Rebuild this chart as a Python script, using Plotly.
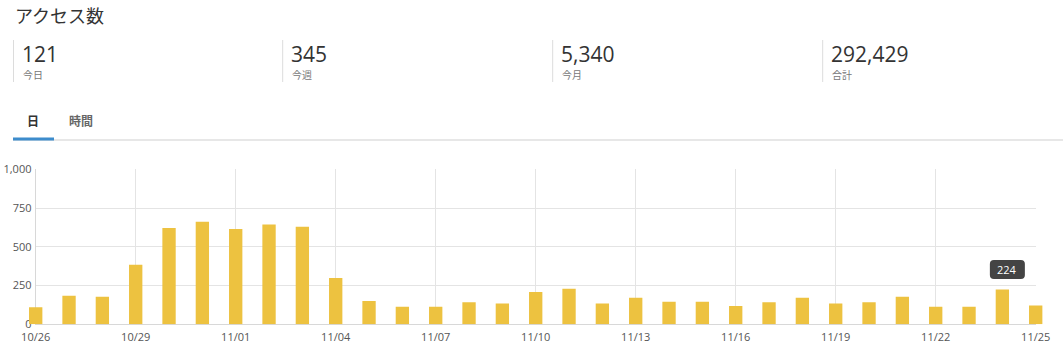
import plotly.graph_objects as go
import pandas as pd

W, H = 1063, 352

# ---------------- data ----------------
dates = [
    "2025-10-26", "2025-10-27", "2025-10-28", "2025-10-29", "2025-10-30", "2025-10-31",
    "2025-11-01", "2025-11-02", "2025-11-03", "2025-11-04", "2025-11-05", "2025-11-06",
    "2025-11-07", "2025-11-08", "2025-11-09", "2025-11-10", "2025-11-11", "2025-11-12",
    "2025-11-13", "2025-11-14", "2025-11-15", "2025-11-16", "2025-11-17", "2025-11-18",
    "2025-11-19", "2025-11-20", "2025-11-21", "2025-11-22", "2025-11-23", "2025-11-24",
    "2025-11-25",
]
visits = [
    110, 185, 178, 385, 621, 662,
    615, 644, 630, 299, 150, 114,
    114, 142, 135, 208, 230, 135,
    172, 146, 146, 118, 142, 172,
    135, 142, 178, 114, 114, 224,
    121,
]
x_tick_vals = ["2025-10-26", "2025-10-29", "2025-11-01", "2025-11-04", "2025-11-07",
               "2025-11-10", "2025-11-13", "2025-11-16", "2025-11-19", "2025-11-22",
               "2025-11-25"]
x_tick_text = ["10/26", "10/29", "11/01", "11/04", "11/07", "11/10", "11/13",
               "11/16", "11/19", "11/22", "11/25"]
y_tick_vals = [0, 250, 500, 750, 1000]
y_tick_text = ["0", "250", "500", "750", "1,000"]

title = "アクセス数"
stat_values = ["121", "345", "5,340", "292,429"]
stat_labels = ["今日", "今週", "今月", "合計"]
tabs = ["日", "時間"]
tooltip_date = "2025-11-24"
tooltip_value = 224

# ---------------- helpers ----------------
def px(v):
    return v / W

def py(v):
    return 1 - v / H

FONT = "Open Sans, Noto Sans CJK JP, sans-serif"
BAR = "#edc240"
GRID = "#e4e4e4"

fig = go.Figure()

# empty trace to establish the grid subplot
fig.add_trace(go.Scatter(x=[], y=[], xaxis="x", yaxis="y", showlegend=False,
                         hoverinfo="skip"))

fig.add_trace(go.Bar(
    x=dates, y=visits, xaxis="x2", yaxis="y2",
    marker=dict(color=BAR, line=dict(width=0)),
    showlegend=False, hoverinfo="skip",
))

x_left, x_right = 35.7, 1035.7
y_bot, y_top = 324.3, 169.3
pad = 10  # px on each side for bar subplot
day_px = (x_right - x_left) / 30.0
pad_h = pad / day_px * 24  # hours

t0 = pd.Timestamp(dates[0]) - pd.Timedelta(hours=pad_h)
t1 = pd.Timestamp(dates[-1]) + pd.Timedelta(hours=pad_h)

fig.update_layout(
    template="none",
    width=W, height=H,
    margin=dict(l=0, r=0, t=0, b=0, pad=0, autoexpand=False),
    paper_bgcolor="white", plot_bgcolor="rgba(0,0,0,0)",
    font=dict(family=FONT, size=11, color="#555"),
    bargap=0.6,
    xaxis=dict(
        type="date", domain=[px(x_left), px(x_right)], anchor="y",
        range=[dates[0], dates[-1]], automargin=False,
        tickmode="array", tickvals=x_tick_vals, ticktext=x_tick_text,
        showgrid=True, gridcolor=GRID, gridwidth=1,
        showline=True, linecolor="#d8d8d8", linewidth=1,
        ticks="outside", ticklen=2, tickcolor="rgba(0,0,0,0)",
        tickfont=dict(size=11, color="#555"),
        zeroline=False, fixedrange=True,
    ),
    yaxis=dict(
        domain=[py(y_bot), py(y_top)], anchor="x",
        range=[0, 1000], automargin=False,
        tickmode="array", tickvals=y_tick_vals, ticktext=y_tick_text,
        showgrid=True, gridcolor=GRID, gridwidth=1,
        showline=True, linecolor="#d8d8d8", linewidth=1,
        ticks="outside", ticklen=1, tickcolor="rgba(0,0,0,0)",
        tickfont=dict(size=11, color="#555"),
        zeroline=False, fixedrange=True,
    ),
    xaxis2=dict(
        type="date", domain=[px(x_left - pad), px(x_right + pad)], anchor="y2",
        range=[t0.strftime("%Y-%m-%d %H:%M:%S.%f"), t1.strftime("%Y-%m-%d %H:%M:%S.%f")],
        visible=False, fixedrange=True, automargin=False,
    ),
    yaxis2=dict(
        domain=[py(y_bot), py(y_top)], anchor="x2", range=[0, 1000],
        visible=False, fixedrange=True, automargin=False,
    ),
)

# ---------------- header texts ----------------
ann = []
ann.append(dict(text=title, x=px(13), y=py(16), xref="paper", yref="paper",
                xanchor="left", yanchor="middle", showarrow=False,
                font=dict(family=FONT, size=18, color="#333")))

sep_x = [13.5, 282.7, 552.7, 822.7]
shapes = []
for i, (v, lab) in enumerate(zip(stat_values, stat_labels)):
    sx = sep_x[i]
    shapes.append(dict(type="line", xref="paper", yref="paper",
                       x0=px(sx), x1=px(sx), y0=py(40), y1=py(82),
                       line=dict(color="#dcdcdc", width=1)))
    ann.append(dict(text=v, x=px(sx + 6), y=py(54.5), xref="paper", yref="paper",
                    xanchor="left", yanchor="middle", showarrow=False,
                    font=dict(family=FONT, size=21, color="#333")))
    ann.append(dict(text=lab, x=px(sx + 7), y=py(75), xref="paper", yref="paper",
                    xanchor="left", yanchor="middle", showarrow=False,
                    font=dict(family=FONT, size=10, color="#777")))

# tabs
ann.append(dict(text="<b>" + tabs[0] + "</b>", x=px(33), y=py(121), xref="paper",
                yref="paper", xanchor="center", yanchor="middle", showarrow=False,
                font=dict(family=FONT, size=12, color="#333")))
ann.append(dict(text="<b>" + tabs[1] + "</b>", x=px(81), y=py(121), xref="paper",
                yref="paper", xanchor="center", yanchor="middle", showarrow=False,
                font=dict(family=FONT, size=12, color="#666")))
shapes.append(dict(type="line", xref="paper", yref="paper", x0=px(13), x1=1,
                   y0=py(140), y1=py(140), line=dict(color="#cfcfcf", width=1)))
shapes.append(dict(type="line", xref="paper", yref="paper", x0=px(13), x1=px(54),
                   y0=py(139), y1=py(139), line=dict(color="#3d8ccc", width=3)))

# tooltip: rounded box anchored at the bar top (pixel-sized path)
bx0, bx1, by0, by1, r = -12.5, 22.5, 10.5, 29.5, 4
path = (f"M {bx0 + r},{by0} L {bx1 - r},{by0} Q {bx1},{by0} {bx1},{by0 + r} "
        f"L {bx1},{by1 - r} Q {bx1},{by1} {bx1 - r},{by1} L {bx0 + r},{by1} "
        f"Q {bx0},{by1} {bx0},{by1 - r} L {bx0},{by0 + r} Q {bx0},{by0} {bx0 + r},{by0} Z")
shapes.append(dict(type="path", xref="x2", yref="y2", xsizemode="pixel",
                   ysizemode="pixel", xanchor=tooltip_date, yanchor=tooltip_value,
                   path=path, fillcolor="#444444", line=dict(width=0), layer="above"))
ann.append(dict(text=str(tooltip_value), x=tooltip_date, y=tooltip_value,
                xref="x2", yref="y2", xanchor="center", yanchor="middle",
                yshift=(by0 + by1) / 2, xshift=(bx0 + bx1) / 2, showarrow=False,
                font=dict(family=FONT, size=11, color="white")))

fig.update_layout(annotations=ann, shapes=shapes)

fig.write_html("out.html")
